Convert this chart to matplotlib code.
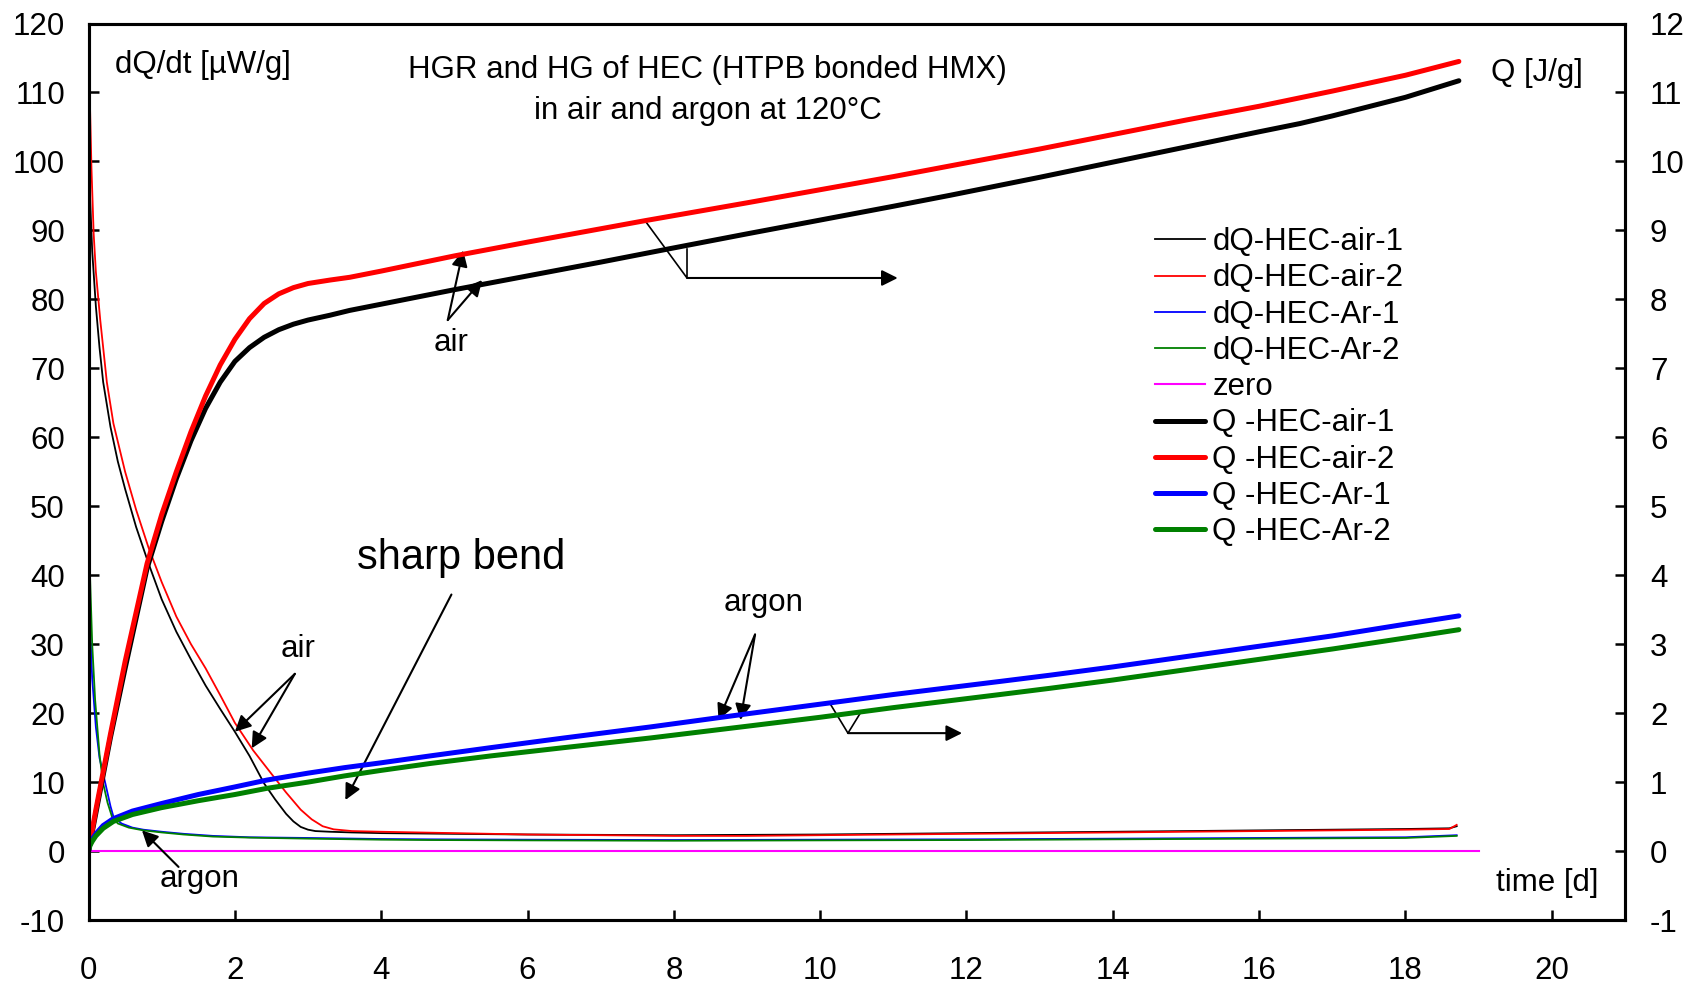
import matplotlib
matplotlib.use("Agg")
import matplotlib.pyplot as plt

plt.rcParams['font.family'] = ['Liberation Sans', 'DejaVu Sans']
plt.rcParams['axes.unicode_minus'] = False

# ---- heat generation rate dQ/dt [uW/g] ----
t_dq_air1 = [0, 0.02, 0.05, 0.1, 0.15, 0.2, 0.3, 0.4, 0.5, 0.65, 0.82, 1.0, 1.2, 1.4, 1.6, 1.8,
             2.0, 2.2, 2.4, 2.55, 2.7, 2.8, 2.9, 3.0, 3.1, 3.3, 3.6, 4, 5, 6, 7, 8, 9, 10, 11,
             12, 13, 14, 15, 16, 17, 18, 18.6, 18.7]
dq_air1 = [102, 95, 87, 79, 73, 68, 61.5, 56.5, 52.5, 47, 41.7, 36.5, 31.8, 27.8, 24, 20.6,
           17.3, 13.8, 9.8, 7.5, 5.4, 4.3, 3.5, 3.1, 2.9, 2.8, 2.7, 2.6, 2.5, 2.4, 2.35, 2.3, 2.35,
           2.4, 2.5, 2.6, 2.7, 2.8, 2.9, 3.0, 3.1, 3.2, 3.3, 3.6]

t_dq_air2 = [0, 0.02, 0.04, 0.07, 0.1, 0.16, 0.25, 0.34, 0.5, 0.65, 0.82, 1.0, 1.2, 1.4, 1.6,
             1.8, 2.0, 2.25, 2.5, 2.7, 2.9, 3.05, 3.2, 3.35, 3.6, 4, 5, 6, 7, 8, 9, 10, 11, 12,
             13, 14, 15, 16, 17, 18, 18.6, 18.7]
dq_air2 = [120, 108, 99, 89.5, 84, 77, 68, 62, 55, 49.5, 44, 39, 34, 30, 26.5, 22.6, 18.6, 14.6,
           11.2, 8.5, 6.0, 4.6, 3.6, 3.15, 2.9, 2.8, 2.6, 2.4, 2.3, 2.2, 2.2, 2.3, 2.4, 2.5, 2.6,
           2.7, 2.8, 2.9, 3.0, 3.1, 3.2, 3.8]

t_dq_ar1 = [0, 0.02, 0.05, 0.1, 0.15, 0.23, 0.3, 0.34, 0.45, 0.6, 0.75, 1.0, 1.3, 1.7, 2.2, 3,
            4, 4.67, 6, 8, 10, 12, 14, 16, 18, 18.7]
dq_ar1 = [41, 33, 25, 18, 13.5, 9.8, 6.5, 5.0, 4.0, 3.4, 3.1, 2.8, 2.5, 2.2, 2.0, 1.9, 1.75,
          1.7, 1.65, 1.6, 1.65, 1.7, 1.8, 1.9, 2.0, 2.3]

t_dq_ar2 = [0, 0.02, 0.05, 0.09, 0.15, 0.2, 0.26, 0.32, 0.4, 0.55, 0.75, 1.0, 1.3, 1.7, 2.2, 3,
            4, 4.67, 6, 8, 10, 12, 14, 16, 18, 18.7]
dq_ar2 = [53, 40, 30, 21.9, 14, 9.8, 7.0, 5.0, 4.0, 3.4, 3.0, 2.7, 2.4, 2.1, 1.95, 1.8, 1.65,
          1.6, 1.55, 1.5, 1.55, 1.6, 1.7, 1.8, 1.9, 2.2]

t_zero = [0, 19.0]
zero = [0, 0]

# ---- heat generation Q [J/g] ----
t_q_air1 = [0, 0.1, 0.2, 0.3, 0.5, 0.8, 1.0, 1.2, 1.4, 1.6, 1.8, 2.0, 2.2, 2.4, 2.6, 2.8, 3.0,
            3.3, 3.57, 4, 5, 6, 7, 7.92, 9, 10, 11, 11.78, 13, 14, 15, 16, 16.56, 17, 18, 18.73]
q_air1 = [0, 0.55, 1.1, 1.65, 2.65, 4.1, 4.78, 5.4, 5.95, 6.42, 6.8, 7.1, 7.3, 7.45, 7.56, 7.64,
          7.70, 7.77, 7.84, 7.93, 8.14, 8.34, 8.54, 8.73, 8.95, 9.15, 9.35, 9.51, 9.77, 9.99,
          10.21, 10.43, 10.55, 10.66, 10.93, 11.17]

t_q_air2 = [0, 0.1, 0.2, 0.3, 0.5, 0.8, 1.0, 1.2, 1.4, 1.6, 1.8, 2.0, 2.2, 2.4, 2.6, 2.8, 3.0,
            3.3, 3.57, 4, 5, 6, 7.6, 9, 10, 11, 12, 13, 14, 15, 16, 17, 18, 18.73]
q_air2 = [0, 0.6, 1.15, 1.7, 2.75, 4.17, 4.88, 5.5, 6.08, 6.6, 7.05, 7.42, 7.72, 7.94, 8.08,
          8.17, 8.23, 8.28, 8.32, 8.41, 8.63, 8.83, 9.14, 9.40, 9.59, 9.78, 9.98, 10.18, 10.39,
          10.60, 10.80, 11.02, 11.25, 11.45]

t_q_ar = [0, 0.02, 0.05, 0.1, 0.2, 0.34, 0.6, 1.0, 1.5, 2.0, 2.44, 3.0, 3.5, 4.0, 4.67, 5.5,
          6.5, 7.68, 9, 10, 11, 12.46, 13.14, 14, 15, 16, 17, 18, 18.73]
q_ar1 = [0, 0.1, 0.17, 0.25, 0.37, 0.47, 0.58, 0.69, 0.82, 0.93, 1.03, 1.13, 1.21, 1.28, 1.38,
         1.5, 1.64, 1.80, 1.99, 2.13, 2.27, 2.46, 2.55, 2.67, 2.82, 2.97, 3.12, 3.29, 3.41]
q_ar2 = [0, 0.08, 0.14, 0.22, 0.33, 0.43, 0.53, 0.63, 0.73, 0.82, 0.91, 1.0, 1.09, 1.17, 1.27,
         1.38, 1.5, 1.64, 1.81, 1.94, 2.08, 2.27, 2.36, 2.48, 2.63, 2.78, 2.93, 3.09, 3.21]

FS = 22.5

fig = plt.figure(figsize=(16.93, 9.88), dpi=100)
ax = fig.add_axes([0.0523, 0.0688, 0.9075, 0.9074])
ax2 = ax.twinx()

h1, = ax.plot(t_dq_air1, dq_air1, color='black', lw=1.3, label='dQ-HEC-air-1')
h2, = ax.plot(t_dq_air2, dq_air2, color='#ff0000', lw=1.3, label='dQ-HEC-air-2')
h3, = ax.plot(t_dq_ar1, dq_ar1, color='#0000ff', lw=1.3, label='dQ-HEC-Ar-1')
h4, = ax.plot(t_dq_ar2, dq_ar2, color='#008000', lw=1.3, label='dQ-HEC-Ar-2')
h5, = ax.plot(t_zero, zero, color='#ff00ff', lw=1.5, label='zero')

h6, = ax2.plot(t_q_air1, q_air1, color='black', lw=3.6, label='Q -HEC-air-1', solid_capstyle='round')
h7, = ax2.plot(t_q_air2, q_air2, color='#ff0000', lw=3.6, label='Q -HEC-air-2', solid_capstyle='round')
h8, = ax2.plot(t_q_ar, q_ar1, color='#0000ff', lw=3.6, label='Q -HEC-Ar-1', solid_capstyle='round')
h9, = ax2.plot(t_q_ar, q_ar2, color='#008000', lw=3.6, label='Q -HEC-Ar-2', solid_capstyle='round')

ax.set_xlim(0, 21)
ax.set_ylim(-10, 120)
ax2.set_ylim(-1, 12)
ax.set_xticks(range(0, 21, 2))
ax.set_yticks(range(-10, 121, 10))
ax2.set_yticks(range(-1, 13))

for a in (ax, ax2):
    for s in a.spines.values():
        s.set_linewidth(2.2)
ax.tick_params(axis='x', direction='in', length=7, width=1.8, labelsize=FS, pad=26, top=False)
ax.tick_params(axis='y', direction='in', length=7, width=1.8, labelsize=FS, pad=17)
ax2.tick_params(axis='y', direction='in', length=7, width=1.8, labelsize=FS, pad=18)

# texts
ax.text(0.36, 114, 'dQ/dt [\u00b5W/g]', fontsize=FS, va='center', ha='left')
ax.text(20.42, 112.8, 'Q [J/g]', fontsize=FS, va='center', ha='right')
ax.text(20.64, -4.6, 'time [d]', fontsize=FS, va='center', ha='right')
ax.text(8.46, 110.3, 'HGR and HG of HEC (HTPB bonded HMX)\nin air and argon at 120\u00b0C',
        fontsize=FS, ha='center', va='center', linespacing=1.45)
ax.text(5.09, 42.5, 'sharp bend', fontsize=30, ha='center', va='center')

arrow = dict(arrowstyle='-|>', color='black', lw=1.5, mutation_scale=24, shrinkA=0, shrinkB=0)

# air, Q curves
ax.text(4.96, 73.6, 'air', fontsize=FS, ha='center', va='center')
ax.annotate('', xy=(5.12, 87.1), xytext=(4.91, 77), arrowprops=arrow)
ax.annotate('', xy=(5.38, 82.8), xytext=(4.91, 77), arrowprops=arrow)
ax.plot([7.60, 8.18, 8.18], [91.5, 83.1, 87.3], color='black', lw=1.2)
ax.annotate('', xy=(11.06, 83.1), xytext=(8.18, 83.1), arrowprops=arrow)

# argon, Q curves
ax.text(9.22, 36.0, 'argon', fontsize=FS, ha='center', va='center')
ax.annotate('', xy=(8.61, 19.0), xytext=(9.11, 31.4), arrowprops=arrow)
ax.annotate('', xy=(8.91, 19.0), xytext=(9.11, 31.4), arrowprops=arrow)
ax.plot([10.14, 10.38, 10.56], [21.3, 17.1, 20.2], color='black', lw=1.2)
ax.annotate('', xy=(11.94, 17.1), xytext=(10.38, 17.1), arrowprops=arrow)

# air, dQ curves
ax.text(2.87, 29.3, 'air', fontsize=FS, ha='center', va='center')
ax.annotate('', xy=(2.0, 17.3), xytext=(2.82, 25.7), arrowprops=arrow)
ax.annotate('', xy=(2.23, 14.9), xytext=(2.82, 25.7), arrowprops=arrow)

# sharp bend
ax.annotate('', xy=(3.51, 7.4), xytext=(4.96, 37.2), arrowprops=arrow)

# argon, dQ curves
ax.text(1.52, -4.0, 'argon', fontsize=FS, ha='center', va='center')
ax.annotate('', xy=(0.73, 3.0), xytext=(1.23, -2.3), arrowprops=arrow)

handles = [h1, h2, h3, h4, h5, h6, h7, h8, h9]
ax2.legend(handles=handles, labels=[h.get_label() for h in handles],
           loc='upper left', bbox_to_anchor=(0.682, 0.770), bbox_transform=fig.transFigure,
           frameon=False, fontsize=FS, handlelength=1.6, handletextpad=0.25,
           labelspacing=0.2, borderpad=0, borderaxespad=0)

fig.savefig('out.png', dpi=100)
